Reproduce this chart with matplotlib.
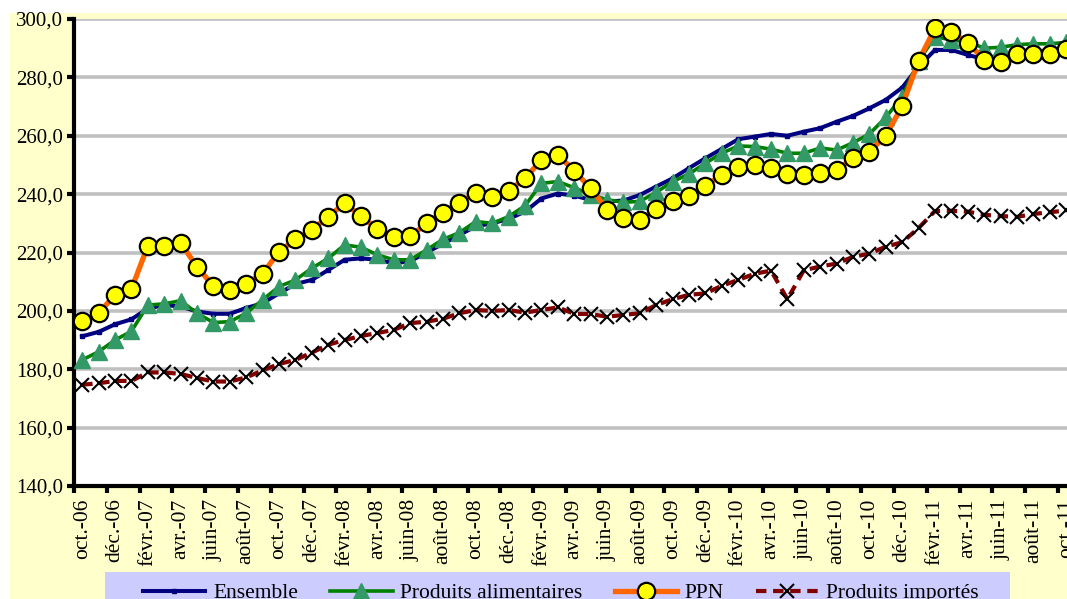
import numpy as np
import matplotlib
matplotlib.use("Agg")
import matplotlib.pyplot as plt
from matplotlib.patches import Rectangle

# monthly series, oct-06 .. oct-11
months = ["oct.-06", "nov.-06", "déc.-06", "janv.-07", "févr.-07", "mars-07", "avr.-07", "mai-07",
          "juin-07", "juil.-07", "août-07", "sept.-07", "oct.-07", "nov.-07", "déc.-07", "janv.-08",
          "févr.-08", "mars-08", "avr.-08", "mai-08", "juin-08", "juil.-08", "août-08", "sept.-08",
          "oct.-08", "nov.-08", "déc.-08", "janv.-09", "févr.-09", "mars-09", "avr.-09", "mai-09",
          "juin-09", "juil.-09", "août-09", "sept.-09", "oct.-09", "nov.-09", "déc.-09", "janv.-10",
          "févr.-10", "mars-10", "avr.-10", "mai-10", "juin-10", "juil.-10", "août-10", "sept.-10",
          "oct.-10", "nov.-10", "déc.-10", "janv.-11", "févr.-11", "mars-11", "avr.-11", "mai-11",
          "juin-11", "juil.-11", "août-11", "sept.-11", "oct.-11"]

ensemble = [191.3, 192.8, 195.4, 197.1, 200.8, 202.0, 201.5, 199.8, 199.0, 199.0,
            201.0, 202.6, 206.0, 209.2, 210.6, 214.0, 217.5, 218.0, 217.5, 216.3,
            217.0, 220.0, 223.0, 226.0, 229.0, 230.0, 231.5, 234.0, 238.5, 240.2,
            239.5, 238.0, 237.5, 237.8, 239.7, 242.6, 245.4, 248.9, 252.3, 255.5,
            258.8, 259.7, 260.6, 260.0, 261.4, 262.6, 264.8, 266.8, 269.4, 272.3,
            276.5, 283.7, 289.4, 289.4, 287.7, 286.2, 286.5, 287.0, 287.5, 288.0, 288.5]

alimentaires = [183.2, 186.0, 190.0, 193.0, 202.0, 202.4, 203.5, 199.2, 196.0, 196.3,
                199.2, 203.8, 208.3, 210.6, 214.6, 218.0, 222.6, 221.8, 219.2, 217.5,
                217.5, 220.9, 224.5, 226.8, 230.6, 230.0, 232.3, 236.0, 243.7, 244.3,
                242.2, 239.8, 238.1, 237.2, 237.5, 240.6, 244.3, 246.9, 250.6, 254.0,
                256.5, 256.3, 255.4, 254.0, 254.0, 255.8, 255.1, 257.6, 260.6, 266.3,
                273.4, 285.5, 294.0, 292.8, 292.2, 290.0, 290.3, 291.2, 291.5, 291.5, 292.0]

ppn = [196.4, 199.2, 205.5, 207.4, 222.3, 222.3, 223.4, 215.0, 208.6, 207.0,
       209.2, 212.7, 220.3, 224.5, 227.7, 232.3, 236.9, 232.5, 228.0, 225.2,
       225.5, 230.0, 233.7, 236.9, 240.5, 238.9, 241.2, 245.4, 251.7, 253.4,
       248.0, 242.0, 234.7, 231.7, 231.3, 234.8, 237.6, 239.5, 242.8, 246.6,
       249.3, 250.0, 248.9, 246.9, 246.6, 247.2, 248.3, 252.3, 254.6, 260.0,
       270.2, 285.7, 296.8, 295.5, 291.8, 286.1, 285.3, 288.0, 288.0, 288.0, 289.8]

importes = [174.7, 175.2, 176.0, 176.0, 178.9, 178.9, 178.4, 177.0, 175.8, 175.8,
            177.2, 179.6, 181.8, 183.2, 185.7, 188.4, 190.0, 191.4, 192.4, 193.5,
            195.8, 196.3, 197.3, 199.2, 200.3, 200.0, 200.3, 199.4, 200.3, 201.2,
            199.0, 198.9, 198.0, 198.6, 199.2, 202.0, 204.0, 205.5, 206.0, 208.6,
            210.6, 212.7, 213.8, 204.0, 213.9, 215.2, 216.2, 218.5, 219.6, 222.0,
            223.5, 228.4, 234.2, 234.3, 234.0, 232.9, 232.5, 232.2, 233.2, 233.8, 234.4]

plt.rcParams['font.family'] = ['Liberation Serif', 'DejaVu Serif']

W, H = 1067, 599
fig = plt.figure(figsize=(W / 100, H / 100), dpi=100, facecolor='white')

# chart area background (yellow) and legend box (lavender), kept under the axes
fig.patches.append(Rectangle((10 / W, 0), 1, 1 - 13 / H, transform=fig.transFigure,
                             facecolor='#FFFFCC', edgecolor='none', zorder=-10))
fig.patches.append(Rectangle((105 / W, 0), (1010 - 105) / W, (599 - 572) / H,
                             transform=fig.transFigure, facecolor='#CCCCFF',
                             edgecolor='none', zorder=-9))

px_cat = 16.4
ncat = 62
ax = fig.add_axes([74 / W, (H - 486) / H, ncat * px_cat / W, (486 - 19) / H])
ax.set_facecolor('white')

x = np.arange(len(months))

ax.plot(x, ensemble, color='#000080', lw=2.9, marker='s', ms=3.2,
        mfc='#000080', mec='#000080', label='Ensemble', zorder=3)
ax.plot(x, alimentaires, color='#008000', lw=2.6, marker='^', ms=11,
        mfc='#339966', mec='#339966', label='Produits alimentaires', zorder=4)
ax.plot(x, ppn, color='#FF6600', lw=3.8, marker='o', ms=12.5,
        mfc='#FFFF00', mec='black', mew=1.6, label='PPN', zorder=5)
ax.plot(x, importes, color='#800000', lw=3.0, dashes=(2.5, 1.6), marker='x', ms=10,
        mec='black', mew=1.5, label='Produits importés', zorder=6)

ax.set_xlim(-0.5, ncat - 0.5)
ax.set_ylim(140, 300)
ax.set_yticks(np.arange(140, 301, 20))
ax.set_yticklabels([f"{v:.1f}".replace('.', ',') for v in np.arange(140, 301, 20)])
ax.yaxis.grid(True, color='#C0C0C0', lw=2.6, zorder=0)
ax.set_axisbelow(True)

# ticks at category boundaries every 2 months, labels on category centers
ax.set_xticks(np.arange(-0.5, ncat, 2))
ax.set_xticklabels([])
ax.set_xticks(x[::2], minor=True)
ax.set_xticklabels(months[::2], minor=True, rotation=90, va='top', ha='center')
ax.tick_params(axis='x', which='major', direction='out', length=5, width=3, color='black')
ax.tick_params(axis='x', which='minor', length=0, pad=9, labelsize=15.5)
ax.tick_params(axis='y', direction='out', length=5, width=3, color='black', labelsize=15, pad=3)

for s in ['top', 'right']:
    ax.spines[s].set_visible(False)
for s in ['left', 'bottom']:
    ax.spines[s].set_linewidth(3)
    ax.spines[s].set_color('black')

ax.legend(loc='center left', bbox_to_anchor=(143 / W, 1 - 593 / H),
          bbox_transform=fig.transFigure, ncol=4, frameon=False, fontsize=15.5,
          handlelength=2.9, handletextpad=0.35, columnspacing=1.5,
          borderpad=0, borderaxespad=0)

fig.savefig('out.png', dpi=100, facecolor=fig.get_facecolor())
